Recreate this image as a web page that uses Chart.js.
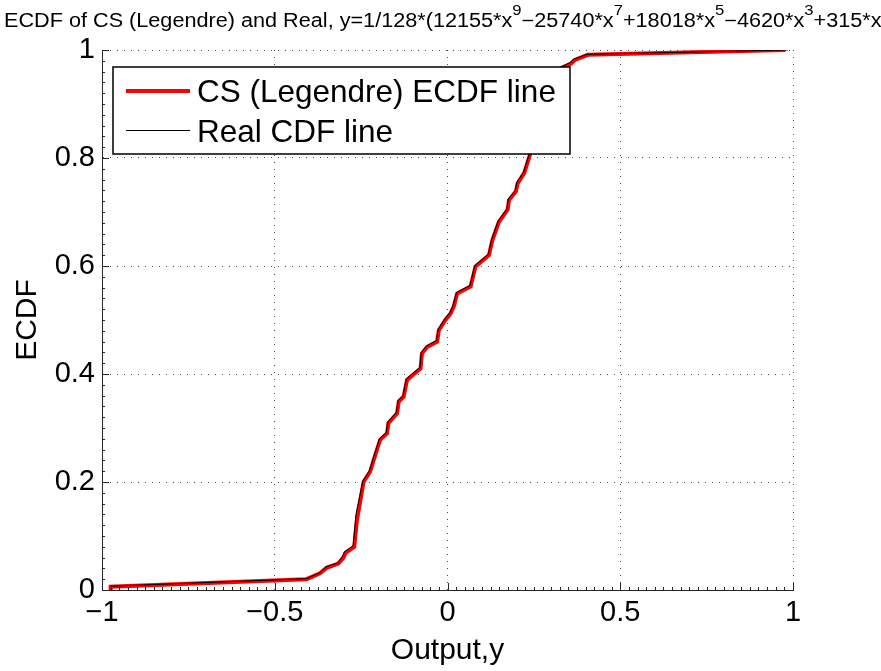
<!DOCTYPE html>
<html>
<head>
<meta charset="utf-8">
<script src="https://cdn.jsdelivr.net/npm/chart.js@4"></script>
<style>
    html, body { margin: 0; padding: 0; background: #fff; }
    #wrap { width: 881px; height: 671px; }
</style>
</head>
<body>
<div id="wrap"><canvas id="chart"></canvas></div>
<script>
// ECDF of the compressed-sensing (Legendre) output
const ecdfX = [-0.975, -0.975, -0.408, -0.369, -0.350, -0.316, -0.301, -0.295, -0.270, -0.262, -0.243, -0.224, -0.209, -0.195, -0.175, -0.171, -0.146, -0.141, -0.127, -0.117, -0.078, -0.074, -0.059, -0.030, -0.025, -0.006, 0.009, 0.018, 0.028, 0.067, 0.081, 0.120, 0.130, 0.149, 0.174, 0.178, 0.198, 0.203, 0.222, 0.246, 0.270, 0.300, 0.328, 0.358, 0.367, 0.406, 0.978];
const ecdfY = [0, 0.006, 0.020, 0.031, 0.041, 0.049, 0.060, 0.069, 0.080, 0.130, 0.200, 0.219, 0.250, 0.278, 0.290, 0.309, 0.327, 0.349, 0.358, 0.389, 0.410, 0.438, 0.450, 0.460, 0.481, 0.500, 0.512, 0.525, 0.549, 0.562, 0.599, 0.620, 0.648, 0.682, 0.704, 0.722, 0.738, 0.753, 0.772, 0.821, 0.870, 0.930, 0.966, 0.975, 0.981, 0.991, 1.0];

// Real CDF line
const realX = [-0.975, -0.408, -0.370, -0.352, -0.318, -0.304, -0.298, -0.273, -0.265, -0.245, -0.226, -0.211, -0.197, -0.177, -0.173, -0.148, -0.143, -0.129, -0.119, -0.080, -0.076, -0.061, -0.032, -0.027, -0.008, 0.007, 0.016, 0.026, 0.065, 0.079, 0.118, 0.128, 0.147, 0.172, 0.176, 0.196, 0.201, 0.220, 0.244, 0.268, 0.298, 0.326, 0.356, 0.365, 0.404, 0.985];
const realY = [0.007, 0.021, 0.032, 0.043, 0.050, 0.063, 0.071, 0.082, 0.140, 0.202, 0.221, 0.252, 0.280, 0.292, 0.311, 0.329, 0.351, 0.360, 0.391, 0.412, 0.440, 0.452, 0.462, 0.483, 0.502, 0.514, 0.527, 0.551, 0.564, 0.601, 0.622, 0.650, 0.684, 0.706, 0.724, 0.740, 0.755, 0.774, 0.823, 0.872, 0.932, 0.968, 0.977, 0.983, 0.992, 1.0];

const xTickValues = [-1, -0.5, 0, 0.5, 1];
const yTickValues = [0, 0.2, 0.4, 0.6, 0.8, 1];
const seriesLabels = ['CS (Legendre) ECDF line', 'Real CDF line'];

// title pieces: [text, isSuperscript]
const titleParts = [
    ['ECDF of CS (Legendre) and Real, y=1/128*(12155*x', false], ['9', true],
    ['\u221225740*x', false], ['7', true],
    ['+18018*x', false], ['5', true],
    ['\u22124620*x', false], ['3', true],
    ['+315*x)', false]
];

const FONT = 'Arial, "Liberation Sans", sans-serif';

function toPoints(xs, ys) {
    return xs.map((x, i) => ({ x: x, y: ys[i] }));
}

function fmtTick(v) {
    return v < 0 ? '\u2212' + Math.abs(v) : String(v);
}

const titlePlugin = {
    id: 'matTitle',
    afterDraw(chart) {
        const ctx = chart.ctx;
        ctx.save();
        ctx.fillStyle = '#000';
        ctx.textBaseline = 'alphabetic';
        ctx.translate(4, 27);
        ctx.scale(1.11, 1);
        let x = 0;
        titleParts.forEach(([txt, sup]) => {
            ctx.font = (sup ? '15px ' : '19.5px ') + FONT;
            ctx.fillText(txt, x, sup ? -12.5 : 0);
            x += ctx.measureText(txt).width;
        });
        ctx.restore();
    }
};

const axisTicksPlugin = {
    id: 'inwardTicks',
    afterDatasetsDraw(chart) {
        const ctx = chart.ctx;
        const xs = chart.scales.x, ys = chart.scales.y;
        const a = chart.chartArea;
        ctx.save();
        ctx.strokeStyle = '#262626';
        ctx.lineWidth = 1;
        ctx.beginPath();
        for (let v = -1; v <= 1.0001; v += 0.025) {
            const px = Math.round(xs.getPixelForValue(v)) + 0.5;
            const major = xTickValues.some(t => Math.abs(t - v) < 1e-6);
            ctx.moveTo(px, a.bottom);
            ctx.lineTo(px, a.bottom - (major ? 7 : 3));
        }
        for (let v = 0; v <= 1.0001; v += 0.02) {
            const py = Math.round(ys.getPixelForValue(v)) + 0.5;
            const major = yTickValues.some(t => Math.abs(t - v) < 1e-6);
            ctx.moveTo(a.left, py);
            ctx.lineTo(a.left + (major ? 7 : 3), py);
        }
        ctx.stroke();
        ctx.restore();
    }
};

const legendPlugin = {
    id: 'boxLegend',
    afterDraw(chart) {
        const ctx = chart.ctx;
        const box = { x: 113, y: 67, w: 457, h: 87 };
        ctx.save();
        ctx.fillStyle = '#fff';
        ctx.fillRect(box.x, box.y, box.w, box.h);
        ctx.strokeStyle = '#000';
        ctx.lineWidth = 1.5;
        ctx.strokeRect(box.x, box.y, box.w, box.h);

        const rows = [
            { label: seriesLabels[0], color: '#ff0000', width: 4, y: 91, base: 102 },
            { label: seriesLabels[1], color: '#000', width: 1, y: 130.5, base: 142 }
        ];
        rows.forEach(r => {
            ctx.strokeStyle = r.color;
            ctx.lineWidth = r.width;
            ctx.beginPath();
            ctx.moveTo(126, r.y);
            ctx.lineTo(190, r.y);
            ctx.stroke();
            ctx.fillStyle = '#000';
            ctx.font = '31.5px ' + FONT;
            ctx.textBaseline = 'alphabetic';
            ctx.fillText(r.label, 197, r.base);
        });
        ctx.restore();
    }
};

const tickFont = { family: FONT, size: 29 };
const labelFont = { family: FONT, size: 30 };

new Chart(document.getElementById('chart'), {
    type: 'scatter',
    data: {
        datasets: [
            {
                label: seriesLabels[0],
                data: toPoints(ecdfX, ecdfY),
                showLine: true,
                borderColor: '#ff0000',
                borderWidth: 4,
                pointRadius: 0,
                tension: 0,
                order: 2
            },
            {
                label: seriesLabels[1],
                data: toPoints(realX, realY),
                showLine: true,
                borderColor: '#000000',
                borderWidth: 1,
                pointRadius: 0,
                tension: 0,
                order: 1
            }
        ]
    },
    options: {
        responsive: true,
        maintainAspectRatio: false,
        animation: false,
        layout: { padding: { top: 50, right: 88, left: 0, bottom: 0 } },
        plugins: {
            legend: { display: false },
            tooltip: { enabled: false },
            title: { display: false }
        },
        scales: {
            x: {
                type: 'linear',
                min: -1,
                max: 1,
                afterBuildTicks: s => { s.ticks = xTickValues.map(v => ({ value: v })); },
                afterFit: s => { s.height = 81; },
                ticks: {
                    color: '#000',
                    font: tickFont,
                    padding: 6,
                    maxRotation: 0,
                    callback: v => fmtTick(v)
                },
                grid: { color: 'rgba(0,0,0,0.7)', lineWidth: 1, drawTicks: false },
                border: { display: true, color: '#262626', width: 1, dash: [1, 6] },
                title: {
                    display: true,
                    text: 'Output,y',
                    color: '#000',
                    font: labelFont,
                    padding: { top: 0, bottom: 2 }
                }
            },
            y: {
                type: 'linear',
                min: 0,
                max: 1,
                afterBuildTicks: s => { s.ticks = yTickValues.map(v => ({ value: v })); },
                afterFit: s => { s.width = 102; },
                ticks: {
                    color: '#000',
                    font: tickFont,
                    padding: 7,
                    callback: v => fmtTick(v)
                },
                grid: { color: 'rgba(0,0,0,0.7)', lineWidth: 1, drawTicks: false },
                border: { display: true, color: '#262626', width: 1, dash: [1, 6] },
                title: {
                    display: true,
                    text: 'ECDF',
                    color: '#000',
                    font: labelFont,
                    padding: { top: 10, bottom: 0 }
                }
            }
        }
    },
    plugins: [axisTicksPlugin, legendPlugin, titlePlugin]
});
</script>
</body>
</html>
